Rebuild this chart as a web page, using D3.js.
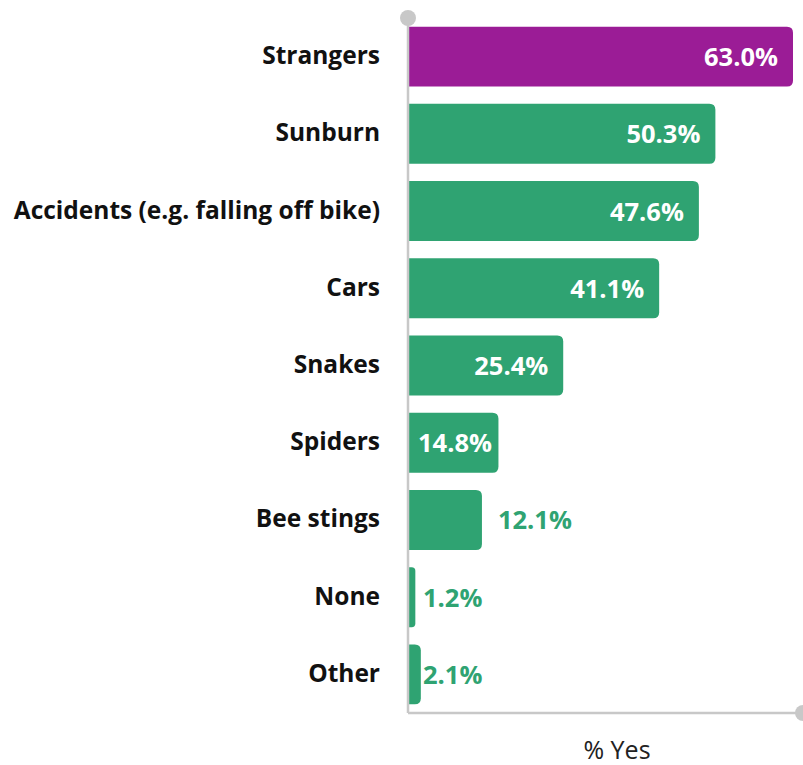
<!DOCTYPE html>
<html>
<head>
<meta charset="utf-8">
<script src="https://cdn.jsdelivr.net/npm/d3@7"></script>
<style>
  html, body { margin: 0; padding: 0; background: #fff; }
  svg { display: block; }
</style>
</head>
<body>
<svg id="chart" width="803" height="765"></svg>
<script>
// Survey: things children are worried about (% answering yes)
const categories = [
  "Strangers", "Sunburn", "Accidents (e.g. falling off bike)", "Cars",
  "Snakes", "Spiders", "Bee stings", "None", "Other"
];
const values = [63.0, 50.3, 47.6, 41.1, 25.4, 14.8, 12.1, 1.2, 2.1];
const highlighted = ["Strangers"];
const axisTitle = "% Yes";

const W = 803, H = 765;
const plotLeft = 408, plotRight = 793, plotTop = 18, plotBottom = 713;
const purple = "#9b1c96", green = "#2fa372", axisGrey = "#c8c8c8";
const font = "'Open Sans', Lato, sans-serif";

const svg = d3.select("#chart");

const x = d3.scaleLinear().domain([0, d3.max(values)]).range([plotLeft, plotRight]);
const y = d3.scaleBand().domain(categories).range([plotTop, plotBottom])
  .paddingInner(0.224).paddingOuter(0.112);

const data = categories.map((c, i) => ({ cat: c, val: values[i] }));
const r = 6;

// bars: square on the axis side, rounded on the value end
function barPath(d) {
  const x0 = x(0), x1 = x(d.val), y0 = y(d.cat), h = y.bandwidth();
  const rr = Math.min(r, (x1 - x0) / 2);
  return `M${x0},${y0}H${x1 - rr}Q${x1},${y0} ${x1},${y0 + rr}` +
         `V${y0 + h - rr}Q${x1},${y0 + h} ${x1 - rr},${y0 + h}H${x0}Z`;
}

svg.append("g").selectAll("path").data(data).join("path")
  .attr("d", barPath)
  .attr("fill", d => highlighted.includes(d.cat) ? purple : green);

// axis lines with round end caps
svg.append("line").attr("x1", plotLeft).attr("x2", plotLeft).attr("y1", plotTop).attr("y2", plotBottom)
  .attr("stroke", axisGrey).attr("stroke-width", 2.5);
svg.append("line").attr("x1", plotLeft).attr("x2", W).attr("y1", plotBottom).attr("y2", plotBottom)
  .attr("stroke", axisGrey).attr("stroke-width", 2.5);
svg.append("circle").attr("cx", plotLeft).attr("cy", plotTop).attr("r", 8).attr("fill", axisGrey);
svg.append("circle").attr("cx", W).attr("cy", plotBottom).attr("r", 8).attr("fill", axisGrey);

// category labels
svg.append("g").selectAll("text").data(data).join("text")
  .attr("x", 380)
  .attr("y", d => y(d.cat) + y.bandwidth() / 2 + 7.5)
  .attr("text-anchor", "end")
  .attr("font-family", font).attr("font-weight", 700).attr("font-size", 24.5)
  .attr("fill", "#111")
  .text(d => d.cat);

// value labels: inside the bar when they fit, otherwise just past its end
const fmt = v => v.toFixed(1) + "%";
const vg = svg.append("g");
data.forEach(d => {
  const t = vg.append("text")
    .attr("y", y(d.cat) + y.bandwidth() / 2 + 9.5)
    .attr("font-family", font).attr("font-weight", 700).attr("font-size", 25.5)
    .text(fmt(d.val));
  const w = t.node().getComputedTextLength();
  const barW = x(d.val) - x(0);
  if (w + 14 <= barW) {
    // right-aligned near the bar end, but kept clear of the axis
    const sx = Math.max(x(d.val) - 15 - w, plotLeft + 10);
    t.attr("x", sx).attr("text-anchor", "start").attr("fill", "#fff");
  } else {
    const sx = barW < 20 ? plotLeft + 15 : x(d.val) + 16;
    t.attr("x", sx).attr("text-anchor", "start").attr("fill", green);
  }
});

// axis title
svg.append("text")
  .attr("x", 617).attr("y", 759)
  .attr("text-anchor", "middle")
  .attr("font-family", font).attr("font-size", 25).attr("fill", "#222")
  .text(axisTitle);
</script>
</body>
</html>
